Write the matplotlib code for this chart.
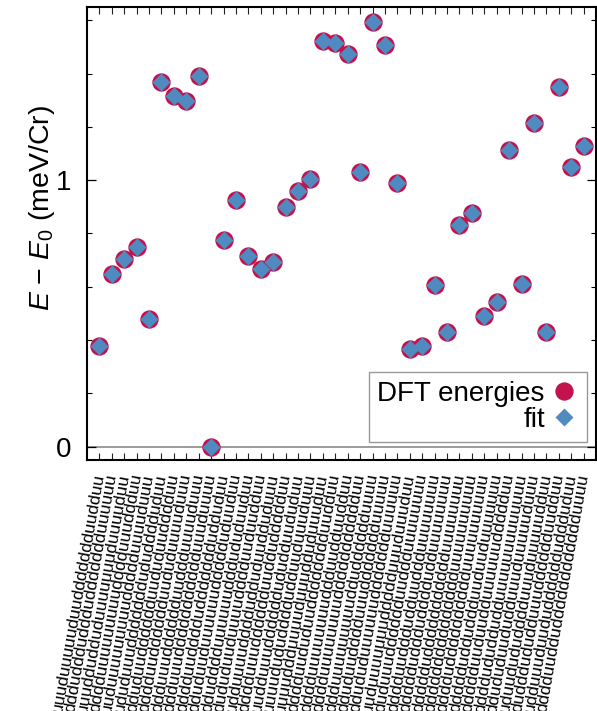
import matplotlib
matplotlib.use("Agg")
import matplotlib.pyplot as plt
from matplotlib.ticker import MultipleLocator, FixedLocator

plt.rcParams['font.family'] = ['Liberation Sans', 'DejaVu Sans']
plt.rcParams['mathtext.fontset'] = 'custom'
plt.rcParams['mathtext.rm'] = 'Liberation Sans'
plt.rcParams['mathtext.it'] = 'Liberation Sans:italic'

# ---- data ----
dft_energies = [0.376, 0.648, 0.704, 0.750, 0.478, 1.368, 1.315, 1.297, 1.392, 0.000,
                0.775, 0.925, 0.717, 0.667, 0.692, 0.900, 0.960, 1.004, 1.522, 1.514,
                1.474, 1.031, 1.593, 1.509, 0.990, 0.366, 0.379, 0.607, 0.432, 0.831,
                0.878, 0.491, 0.544, 1.112, 0.610, 1.216, 0.432, 1.350, 1.050, 1.129]
fit_energies = list(dft_energies)

# spin-configuration tick labels, stored as character rows
# (row 0 = last character of every label, row 24 = first visible character)
label_rows = [
    "uuuuuuuuuuuuuuuuuuuu" + "uuuuuuuuuuuuuuuuuuuu",
    "uuuuuuuuuuuuuuuuuuuu" + "uuuuuuuuuuuuuuuuuuuu",
    "duddudduuudddduddudd" + "dduuuduuuuuuuduudddu",
    "duudduddduuuudddudud" + "dduuuuuuuuuuududdduu",
    "uuududduudduuuudduuu" + "udduuuuuuuuuuduuuudd",
    "uuuuudduuudddudduuuu" + "uddduuuuuuuuuduuuudd",
    "dduuuduuuuuuuddduudd" + "dddddduuuuuuuduuuddd",
    "ddduuduuuuddduuuddud" + "ddddduuuuuuuduuuudud",
    "dduddudddddduuuddudd" + "uddddudddduuuuuuuddd",
    "dduddduudddddddduudd" + "uddddudddduuuuuddddd",
    "dduddudddddddduuddud" + "ddudddddudddduuuuddd",
    "dduddduuudddddduudud" + "dddddduudddduuuuuddd",
    "dduudduuudduudddduud" + "dddudduudddduuuuuudd",
    "uuuuudddddduuuuddddd" + "uuuuuddddddddddddudd",
    "uduuuddddduuuudddduu" + "uuuuudddddddddddduud",
    "ddduudddddduuudddduu" + "uuuduuduudddduuudddd",
    "uduuudddddduuuddddud" + "uuuduudddddduudddduu",
    "uuduudddddduudddduuu" + "uuuduuddddddddduuuud",
    "udduuuddddddduuuuddd" + "uuuduuddddddduuudddd",
    "uduuuuuuuuuuduuuuudu" + "uuuuduuuuudduudduuuu",
    "udduuuuuuuuudduuuddu" + "uuuuuuuudddudduudduu",
    "dudduddduuddduudduud" + "ddudduudddddddddudud",
    "ududduudddduudddduud" + "ddduudddddddddduuddd",
    "udududdddddddudduuud" + "ddddduuddddddddddudd",
    "ududuudddddddduduuud" + "ddddduddddddddddudud",
]
config_labels = ["".join(row[i] for row in reversed(label_rows))
                 for i in range(len(dft_energies))]

positions = list(range(1, len(dft_energies) + 1))

fig = plt.figure(figsize=(5.97, 7.11), dpi=100)
ax = fig.add_axes([87/597, 1 - 460/711, (596-87)/597, (460-7)/711])

ax.axhline(0, color='#808080', lw=1.1, zorder=1)
ax.plot(positions, dft_energies, ls='none', marker='o', ms=13.2, color='#c2134f',
        mec='none', label='DFT energies', zorder=3)
ax.plot(positions, fit_energies, ls='none', marker='D', ms=8.7, color='#4f8bc0',
        mec='none', label='fit', zorder=4)

ax.set_xlim(0, 41)
ax.set_ylim(-0.05, 1.65)

ax.set_xticks(positions)
ax.set_xticklabels(config_labels, rotation=80, ha='right', va='center',
                   rotation_mode='anchor', fontsize=12.6)
ax.tick_params(axis='x', which='major', direction='in', length=5, width=0.8,
               top=True, bottom=True, pad=10, color='#222222')
ax.yaxis.set_major_locator(FixedLocator([0, 1]))
ax.yaxis.set_minor_locator(MultipleLocator(0.2))
ax.tick_params(axis='y', which='major', direction='in', length=6.5, width=0.9,
               left=True, right=True, labelsize=20, pad=11)
ax.tick_params(axis='y', which='minor', direction='in', length=3.6, width=0.8,
               left=True, right=True)
for s in ax.spines.values():
    s.set_linewidth(1.5)

ax.set_ylabel(r'$E$ − $E_0$ (meV/Cr)', fontsize=20.5)
ax.yaxis.set_label_coords(-0.059, 0.556)

leg = ax.legend(loc='lower right', bbox_to_anchor=(587/597, 1 - 442/711),
                bbox_transform=fig.transFigure, markerfirst=False, fontsize=20,
                fancybox=False, framealpha=1, edgecolor='#999999',
                borderpad=0.32, labelspacing=0.0, handletextpad=0.2,
                handlelength=1.0, borderaxespad=0)
leg.get_frame().set_linewidth(1.0)

fig.savefig('out.png', dpi=100)
